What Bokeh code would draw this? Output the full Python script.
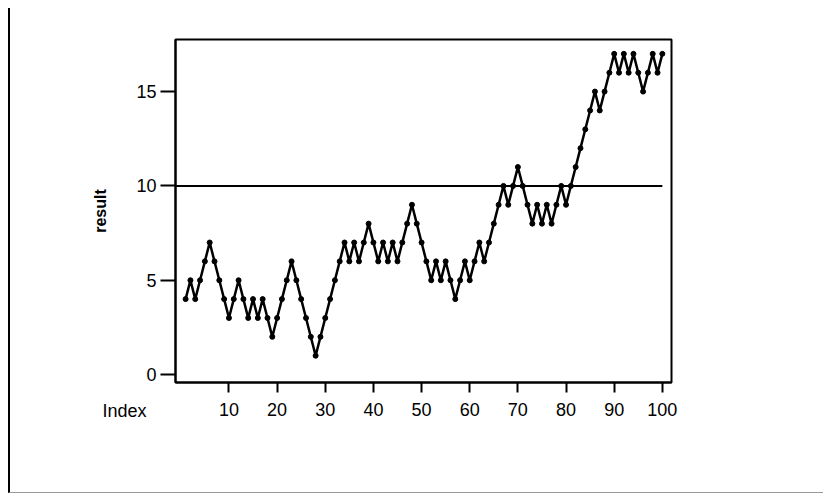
from bokeh.plotting import figure
from bokeh.models import Range1d, Title
from bokeh.embed import file_html
from bokeh.resources import INLINE

# ---- data ----
index = list(range(1, 101))
result = [4, 5, 4, 5, 6, 7, 6, 5, 4, 3,
          4, 5, 4, 3, 4, 3, 4, 3, 2, 3,
          4, 5, 6, 5, 4, 3, 2, 1, 2, 3,
          4, 5, 6, 7, 6, 7, 6, 7, 8, 7,
          6, 7, 6, 7, 6, 7, 8, 9, 8, 7,
          6, 5, 6, 5, 6, 5, 4, 5, 6, 5,
          6, 7, 6, 7, 8, 9, 10, 9, 10, 11,
          10, 9, 8, 9, 8, 9, 8, 9, 10, 9,
          10, 11, 12, 13, 14, 15, 14, 15, 16, 17,
          16, 17, 16, 17, 16, 15, 16, 17, 16, 17]
ref_level = 10
x_ticks = [10, 20, 30, 40, 50, 60, 70, 80, 90, 100]
y_ticks = [0, 5, 10, 15]
x_label = "Index"
y_label = "result"

FONT = "Liberation Sans"

x_range = Range1d(-1.1, 101.9)
y_range = Range1d(-0.42, 17.76)

p = figure(width=815, height=485, output_backend="svg", toolbar_location=None,
           x_range=x_range, y_range=y_range,
           min_border_left=165, min_border_right=154,
           min_border_top=31, min_border_bottom=111,
           styles={"border-left": "2px solid black",
                   "border-bottom": "1px solid #999999",
                   "margin-left": "8px", "margin-top": "8px"})

p.xgrid.visible = False
p.ygrid.visible = False
p.outline_line_color = "black"
p.outline_line_width = 2
p.outline_line_alpha = 1

for ax in (p.xaxis, p.yaxis):
    ax.axis_line_color = "black"
    ax.axis_line_width = 2
    ax.major_tick_line_color = "black"
    ax.major_tick_line_width = 2
    ax.major_tick_in = 0
    ax.minor_tick_line_color = None
    ax.major_label_text_font = FONT
    ax.major_label_text_font_size = "18px"
    ax.major_label_text_color = "black"

p.xaxis.ticker = x_ticks
p.yaxis.ticker = y_ticks
p.xaxis.major_tick_out = 10
p.yaxis.major_tick_out = 15
p.xaxis.major_label_standoff = 10
p.yaxis.major_label_standoff = 4

p.yaxis.axis_label = y_label
p.yaxis.axis_label_text_font = FONT
p.yaxis.axis_label_text_font_size = "16px"
p.yaxis.axis_label_text_font_style = "bold"
p.yaxis.axis_label_text_color = "black"
p.yaxis.axis_label_standoff = 24

# reference line
p.segment(x0=[x_range.start], y0=[ref_level], x1=[max(index)], y1=[ref_level],
          line_color="black", line_width=2)

# series
p.line(index, result, line_color="black", line_width=2.5)
p.scatter(index, result, size=5, fill_color="black", line_color="black")

p.add_layout(Title(text=x_label, align="left", vertical_align="top",
                   offset=-73, standoff=-36,
                   text_font=FONT, text_font_size="18px",
                   text_font_style="normal", text_color="black"), "below")

open("out.html", "w").write(file_html(p, INLINE))
